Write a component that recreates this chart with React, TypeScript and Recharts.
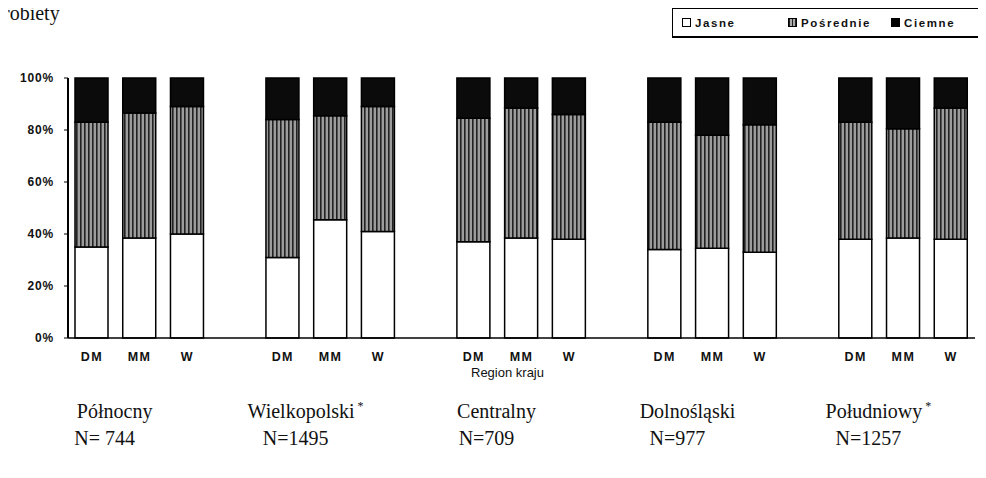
import { Bar, BarChart, XAxis, YAxis } from 'recharts';

// stacked 100% bars: skin tone (Jasne / Pośrednie / Ciemne) by region and group

const regions = ['Północny', 'Wielkopolski', 'Centralny', 'Dolnośląski', 'Południowy'];
const regionStars = [false, true, false, false, true];
const counts = ['N= 744', 'N=1495', 'N=709', 'N=977', 'N=1257'];
const groups = ['DM', 'MM', 'W'];

// one value per bar: region by region, DM / MM / W
const jasne = [35, 38.5, 40, 31, 45.5, 41, 37, 38.5, 38, 34, 34.5, 33, 38, 38.5, 38];
const posrednie = [48, 48, 49, 53, 40, 48, 47.5, 50, 48, 49, 43.5, 49, 45, 42, 50.5];
const ciemne = [17, 13.5, 11, 16, 14.5, 11, 15.5, 11.5, 14, 17, 22, 18, 17, 19.5, 11.5];

const yTicks = [0, 20, 40, 60, 80, 100];

type Row = {
  id: string;
  label: string;
  region?: number;
  jasne?: number;
  posrednie?: number;
  ciemne?: number;
};

const data: Row[] = [];
regions.forEach((r, ri) => {
  groups.forEach((g, gi) => {
    const k = ri * 3 + gi;
    data.push({
      id: `${r}-${g}`,
      label: g,
      region: gi === 1 ? ri : undefined,
      jasne: jasne[k],
      posrednie: posrednie[k],
      ciemne: ciemne[k],
    });
  });
  if (ri < regions.length - 1) data.push({ id: `gap-${ri}`, label: '' });
});

const labelOf: Record<string, string> = Object.fromEntries(data.map((d) => [d.id, d.label]));

const arial = 'Arial, "Liberation Sans", sans-serif';
const serif = '"Liberation Serif", "Times New Roman", serif';

function RegionTick(props: any) {
  const { x, y, index } = props;
  const row = data[index];
  if (!row || row.region === undefined) return null;
  const ri = row.region;
  return (
    <g transform={`translate(${x},${y})`}>
      <text textAnchor="middle" x={-25} y={32} fontFamily={serif} fontSize={20} fill="#111">
        {regions[ri]}
        {regionStars[ri] && (
          <tspan dx={3} dy={-8} fontSize={12}>*</tspan>
        )}
      </text>
      <text textAnchor="middle" x={-35} y={59} fontFamily={serif} fontSize={20} fill="#111">
        {counts[ri]}
      </text>
    </g>
  );
}

function LegendBox() {
  const item = { display: 'flex', alignItems: 'center', gap: 4 } as const;
  const sq = { width: 9, height: 9, border: '1.5px solid #000', boxSizing: 'border-box' } as const;
  return (
    <div
      style={{
        position: 'absolute',
        left: 672,
        top: 8,
        border: '1.5px solid #000',
        borderBottomWidth: 2.5,
        width: 330,
        height: 30,
        boxSizing: 'border-box',
        display: 'flex',
        alignItems: 'center',
        paddingLeft: 9,
        fontFamily: arial,
        fontWeight: 'bold',
        fontSize: 11.5,
        letterSpacing: 1.6,
        color: '#111',
      }}
    >
      <span style={{ ...item, width: 106 }}>
        <span style={{ ...sq, background: '#fff' }} />
        Jasne
      </span>
      <span style={{ ...item, width: 103 }}>
        <span
          style={{
            ...sq,
            background: 'repeating-linear-gradient(90deg, #222 0 1.5px, #aaa 1.5px 3px)',
          }}
        />
        Pośrednie
      </span>
      <span style={item}>
        <span style={{ ...sq, background: '#000' }} />
        Ciemne
      </span>
    </div>
  );
}

export default function App() {
  return (
    <div
      style={{
        position: 'relative',
        left: -8,
        top: -8,
        width: 986,
        height: 478,
        overflow: 'hidden',
        background: '#fff',
      }}
    >
      <div
        style={{
          position: 'absolute',
          left: 3,
          top: 1,
          fontFamily: serif,
          fontSize: 20,
          lineHeight: '24px',
          color: '#111',
          whiteSpace: 'nowrap',
        }}
      >
        robiety
      </div>
      <LegendBox />
      <BarChart
        width={986}
        height={478}
        data={data}
        margin={{ top: 78, right: 11, left: 0, bottom: 20 }}
        barSize={33}
      >
        <defs>
          <pattern id="stripes" width="4" height="4" patternUnits="userSpaceOnUse">
            <rect width="4" height="4" fill="#9c9c9c" />
            <rect width="1.6" height="4" fill="#222" />
          </pattern>
        </defs>
        <YAxis
          domain={[0, 100]}
          ticks={yTicks}
          width={68}
          tickFormatter={(v) => `${v}%`}
          tick={{ fontFamily: arial, fontSize: 12, fontWeight: 'bold', fill: '#111', letterSpacing: 0.8 }}
          tickSize={4}
          tickMargin={10}
          tickLine={{ stroke: '#000' }}
          axisLine={{ stroke: '#000', strokeWidth: 2 }}
        />
        <XAxis
          dataKey="id"
          interval={0}
          height={40}
          tickLine={false}
          axisLine={{ stroke: '#000', strokeWidth: 1.5 }}
          tickFormatter={(v) => labelOf[v]}
          tick={{ fontFamily: arial, fontSize: 12.5, fontWeight: 'bold', fill: '#111', letterSpacing: 1.4 }}
          tickMargin={8}
          label={{
            value: 'Region kraju',
            position: 'insideBottom',
            offset: 1,
            dx: -14,
            style: { fontFamily: arial, fontSize: 13, fill: '#111' },
          }}
        />
        <XAxis
          xAxisId="region"
          dataKey="id"
          interval={0}
          height={80}
          tickLine={false}
          axisLine={false}
          tick={<RegionTick />}
        />
        <Bar dataKey="jasne" stackId="a" fill="#fff" stroke="#000" strokeWidth={1.5} isAnimationActive={false} />
        <Bar dataKey="posrednie" stackId="a" fill="url(#stripes)" stroke="#000" strokeWidth={1.5} isAnimationActive={false} />
        <Bar dataKey="ciemne" stackId="a" fill="#0b0b0b" stroke="#000" strokeWidth={1.5} isAnimationActive={false} />
      </BarChart>
    </div>
  );
}
